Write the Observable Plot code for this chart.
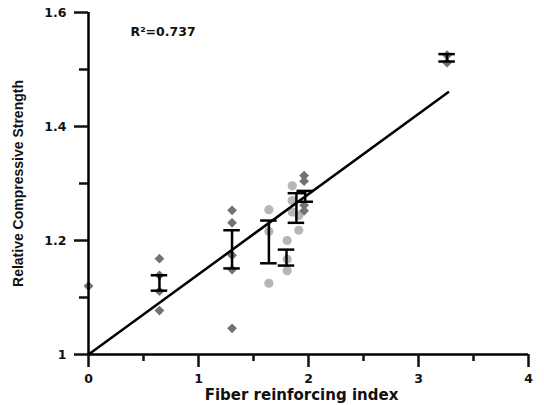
<!DOCTYPE html>
<html><head><meta charset="utf-8">
<script src="https://cdn.jsdelivr.net/npm/d3@7"></script>
<script src="https://cdn.jsdelivr.net/npm/@observablehq/plot@0.6"></script>
<style>body{margin:0;background:#fff}</style>
</head><body><div id="chart"></div>
<script>
// Dark gray diamonds (one series)
const diamondX = [0, 0.645, 0.645, 0.645, 0.645, 1.305, 1.305, 1.305, 1.305, 1.305, 1.96, 1.96, 1.96, 1.96, 3.26, 3.26];
const diamondY = [1.12, 1.168, 1.139, 1.111, 1.077, 1.253, 1.231, 1.174, 1.149, 1.046, 1.314, 1.304, 1.262, 1.252, 1.525, 1.512];
// Light gray circles (second series)
const circleX = [1.64, 1.64, 1.64, 1.806, 1.806, 1.806, 1.852, 1.852, 1.852, 1.912, 1.912];
const circleY = [1.254, 1.216, 1.125, 1.2, 1.167, 1.147, 1.296, 1.27, 1.25, 1.244, 1.218];
// Error bars
const errX = [0.645, 1.305, 1.64, 1.80, 1.89, 1.97, 3.26];
const errLow = [1.112, 1.151, 1.160, 1.156, 1.231, 1.268, 1.514];
const errHigh = [1.139, 1.218, 1.235, 1.184, 1.283, 1.287, 1.527];
// Linear fit
const fitX = [0, 3.27];
const fitY = [1.0, 1.46];
const r2Label = "R\u00B2=0.737";
// Ticks
const xTicks = [0, 1, 2, 3, 4];
const xTickLabels = ["0", "1", "2", "3", "4"];
const xMinor = [0.5, 1.5, 2.5, 3.5];
const yTicks = [1, 1.2, 1.4, 1.6];
const yTickLabels = ["1", "1.2", "1.4", "1.6"];
const yMinor = [1.1, 1.3, 1.5];
const xTitle = "Fiber reinforcing index";
const yTitle = "Relative Compressive Strength";

const diamonds = diamondX.map((x, i) => ({x, y: diamondY[i]}));
const circles = circleX.map((x, i) => ({x, y: circleY[i]}));
const errs = errX.map((x, i) => ({x, lo: errLow[i], hi: errHigh[i]}));
const fit = fitX.map((x, i) => ({x, y: fitY[i]}));
const capHalf = 0.075;
const sw = 2.5;

const chart = Plot.plot({
  width: 544,
  height: 405,
  marginLeft: 88,
  marginRight: 16,
  marginTop: 12,
  marginBottom: 51,
  style: {fontFamily: "'DejaVu Sans', sans-serif", fontSize: "12.5px", fontWeight: "bold", color: "#111", background: "#fff"},
  x: {domain: [0, 4], label: null},
  y: {domain: [1, 1.6], label: null},
  marks: [
    Plot.dot(circles, {x: "x", y: "y", r: 4.6, fill: "#b6b6b6", stroke: "none"}),
    Plot.dot(diamonds, {x: "x", y: "y", r: 4.4, symbol: "diamond2", fill: "#727272", stroke: "none"}),
    Plot.line(fit, {x: "x", y: "y", stroke: "#000", strokeWidth: sw}),
    Plot.ruleX(errs, {x: "x", y1: "lo", y2: "hi", stroke: "#000", strokeWidth: sw}),
    Plot.ruleY(errs, {y: "lo", x1: d => d.x - capHalf, x2: d => d.x + capHalf, stroke: "#000", strokeWidth: sw}),
    Plot.ruleY(errs, {y: "hi", x1: d => d.x - capHalf, x2: d => d.x + capHalf, stroke: "#000", strokeWidth: sw}),
    Plot.ruleX([0], {y1: 1, y2: 1.6, stroke: "#000", strokeWidth: sw}),
    Plot.ruleY([1], {x1: 0, x2: 4, stroke: "#000", strokeWidth: sw}),
    Plot.axisY({ticks: yTicks, tickSize: 14, tickPadding: 8, strokeWidth: sw, tickFormat: d => yTickLabels[yTicks.indexOf(d)]}),
    Plot.axisY({ticks: yMinor, tickSize: 9, strokeWidth: sw, tickFormat: () => ""}),
    Plot.axisX({ticks: xTicks, tickSize: 13, tickPadding: 7, strokeWidth: sw, tickFormat: d => xTickLabels[xTicks.indexOf(d)]}),
    Plot.axisX({ticks: xMinor, tickSize: 7, strokeWidth: sw, tickFormat: () => ""}),
    Plot.text([xTitle], {frameAnchor: "bottom", lineAnchor: "middle", dx: -7, dy: 41, text: d => d, fontSize: 15, fontWeight: "bold"}),
    Plot.text([yTitle], {frameAnchor: "left", textAnchor: "middle", lineAnchor: "middle", dx: -70, rotate: -90, text: d => d, fontSize: 14, fontWeight: "bold", fontFamily: "'Liberation Sans', Arial, sans-serif"}),
    Plot.text([r2Label], {frameAnchor: "top-left", lineAnchor: "middle", dx: 42, dy: 19, textAnchor: "start", text: d => d, fontSize: 12.5, fontWeight: "bold"})
  ]
});
document.getElementById("chart").appendChild(chart);
</script>
</body></html>
